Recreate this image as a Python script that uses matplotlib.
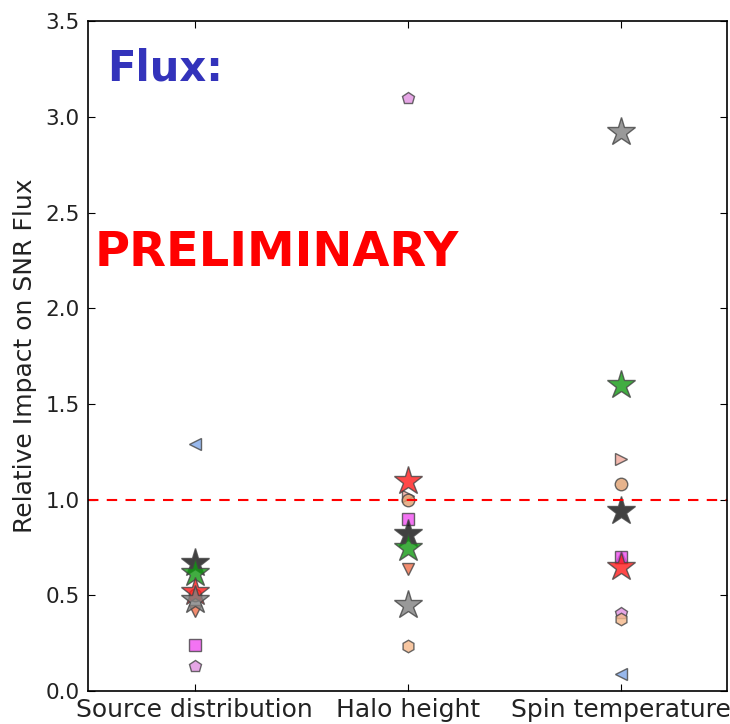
import numpy as np
import matplotlib
matplotlib.use("Agg")
import matplotlib.pyplot as plt

categories = ["Source distribution", "Halo height", "Spin temperature"]

# One entry per model variant: (marker, face colour, size, values per category)
nan = np.nan
series = [
    ("<", "#7ea6e8", 9, [1.29, nan, 0.09]),
    (">", "#f2a89a", 9, [nan, 1.02, 1.21]),
    ("o", "#e0a070", 9, [0.50, 1.00, 1.08]),
    ("v", "#f0704a", 9, [0.42, 0.64, nan]),
    ("^", "#a020a0", 9, [nan, nan, 0.70]),
    ("s", "#f050f0", 9, [0.24, 0.90, 0.70]),
    ("p", "#e090e0", 9, [0.13, 3.10, 0.41]),
    ("h", "#f5b88a", 9, [nan, 0.235, 0.375]),
    ("*", "#111111", 21, [0.668, 0.82, 0.94]),
    ("*", "#119911", 21, [0.616, 0.746, 1.60]),
    ("*", "#ff1a1a", 21, [0.516, 1.10, 0.647]),
    ("*", "#808080", 21, [0.475, 0.45, 2.92]),
]

fig = plt.figure(figsize=(7.30, 7.24), dpi=100)
ax = fig.add_axes([0.1205, 0.0456, 0.876, 0.925])

x = np.arange(len(categories))
for marker, color, ms, vals in series:
    ax.plot(x, vals, linestyle="none", marker=marker, markersize=ms,
            markerfacecolor=color, markeredgecolor="#444444",
            markeredgewidth=1.0, alpha=0.8)

ax.axhline(1.0, color="red", linestyle=(0, (5, 4)), linewidth=1.5)

ax.set_xlim(-0.5, 2.5)
ax.set_ylim(0, 3.5)
ax.set_xticks(x)
ax.set_xticklabels(categories, fontsize=18, color="#222222")
yt = np.arange(0, 3.51, 0.5)
ax.set_yticks(yt)
ax.set_yticklabels([f"{v:.1f}" for v in yt], fontsize=15.5, color="#222222")
ax.tick_params(direction="in", top=True, right=True, length=5)
ax.tick_params(axis="x", pad=5)
ax.tick_params(axis="y", pad=6)
ax.set_ylabel("Relative Impact on SNR Flux", fontsize=18, color="#222222",
              labelpad=6)
for s in ax.spines.values():
    s.set_linewidth(1.2)

ax.text(0.03, 0.93, "Flux:", transform=ax.transAxes, color="#3333bb",
        fontsize=30, fontweight="bold", va="center", ha="left")
ax.text(0.01, 0.655, "PRELIMINARY", transform=ax.transAxes, color="red",
        fontsize=34.5, fontweight="bold", va="center", ha="left")

fig.savefig("out.png", dpi=100)
